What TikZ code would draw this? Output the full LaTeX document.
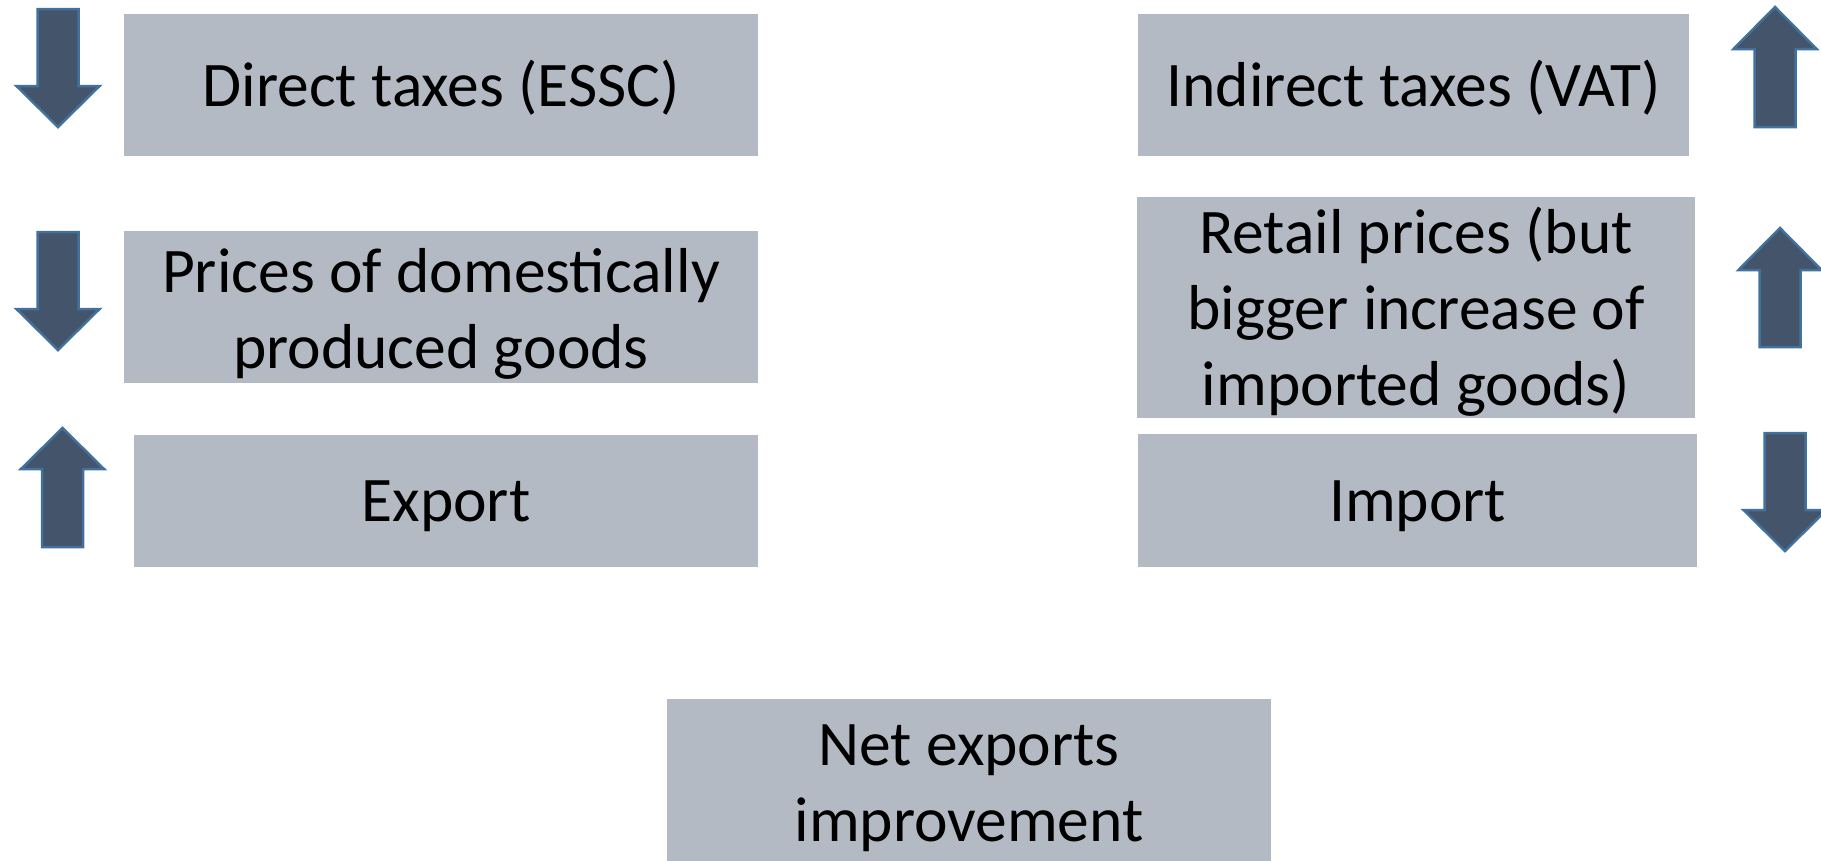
\documentclass[tikz,border=0pt]{standalone}
\usepackage{fontspec}
\setmainfont{Carlito}
\definecolor{boxfill}{HTML}{B4BAC4}
\definecolor{arrowfill}{HTML}{44546A}
\definecolor{arrowline}{HTML}{41719C}
\tikzset{
  infobox/.style={fill=boxfill, draw=none, inner sep=0pt},
  boxtext/.style={align=center, font=\fontsize{63.5}{76}\selectfont, text=black, inner sep=0pt},
  blockarrowstyle/.style={fill=arrowfill, draw=arrowline, line width=2.5pt, line join=miter}
}
% block arrow: centre x, tail y, head base y, tip y
\newcommand{\blockarrow}[4]{%
  \draw[blockarrowstyle] (#1-20.5,#2) -- (#1+20.5,#2) -- (#1+20.5,#3) -- (#1+41.5,#3)
    -- (#1,#4) -- (#1-41.5,#3) -- (#1-20.5,#3) -- cycle;}
\begin{document}
\begin{tikzpicture}[x=1pt,y=-1pt]
\useasboundingbox (0,0) rectangle (1821,860);
\clip (0,0) rectangle (1821,860);
% left column
\fill[infobox] (124,14) rectangle (758,156);
\node[boxtext] (direct) at (441,88) {Direct taxes (ESSC)};
\fill[infobox] (124,231) rectangle (758,383);
\node[boxtext] (domestic) at (441,314) {Prices of domestically\\produced goods};
\fill[infobox] (134,435) rectangle (758,567);
\node[boxtext] (export) at (446,506) {Export};
% right column
\fill[infobox] (1138,14) rectangle (1689,156);
\node[boxtext] (indirect) at (1413.5,88) {Indirect taxes (VAT)};
\fill[infobox] (1137,197) rectangle (1695,418);
\node[boxtext] (retail) at (1416,312) {Retail prices (but\\bigger increase of\\imported goods)};
\fill[infobox] (1138,434) rectangle (1697,567);
\node[boxtext] (import) at (1417.5,506) {Import};
% result
\fill[infobox] (667,699) rectangle (1271,880);
\node[boxtext] (net) at (969,788) {Net exports\\improvement};
% direction arrows
\blockarrow{58}{9}{86}{127}
\blockarrow{58}{232}{309}{350}
\blockarrow{62.5}{547}{469}{428}
\blockarrow{1775}{127}{49}{7}
\blockarrow{1780}{347}{270}{228}
\blockarrow{1785}{433}{510}{551}
\end{tikzpicture}
\end{document}
